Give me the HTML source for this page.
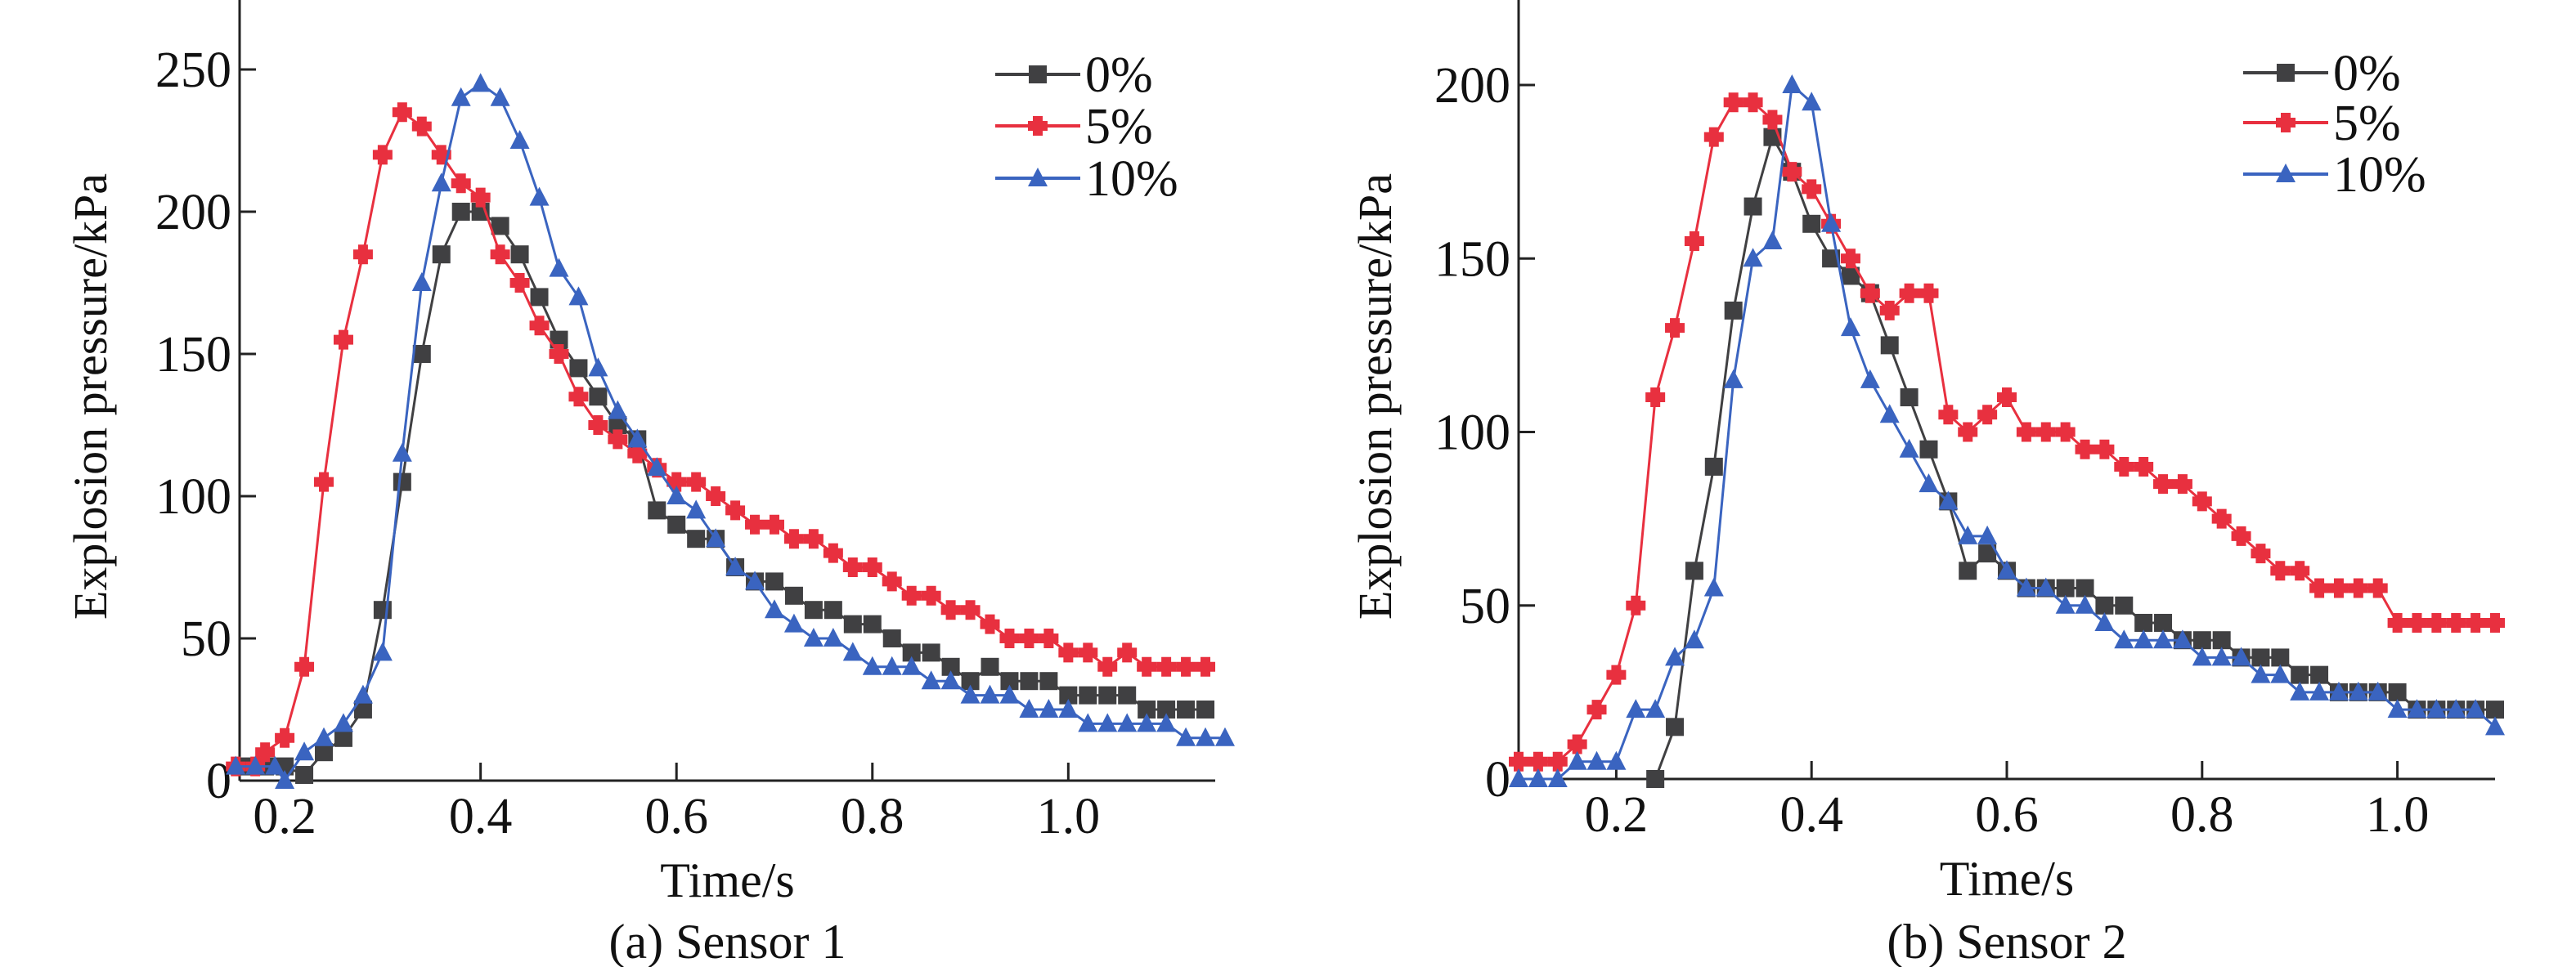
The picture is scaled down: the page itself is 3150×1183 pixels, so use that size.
<!DOCTYPE html>
<html><head><meta charset="utf-8"><style>
html,body{margin:0;padding:0;background:#fff;}
svg{display:block;}
svg text{font-family:"Liberation Serif","Times New Roman",serif;}
</style></head><body>
<svg id="fig" width="3150" height="1183" viewBox="0 0 3150 1183" xmlns="http://www.w3.org/2000/svg" font-family="Liberation Serif, serif"></svg>
<script>
// ---- data: Sensor 1 ----
const a_t0 = [0.16,0.18,0.20,0.22,0.24,0.26,0.28,0.30,0.32,0.34,0.36,0.38,0.40,0.42,0.44,0.46,0.48,0.50,0.52,0.54,0.56,0.58,0.60,0.62,0.64,0.66,0.68,0.70,0.72,0.74,0.76,0.78,0.80,0.82,0.84,0.86,0.88,0.90,0.92,0.94,0.96,0.98,1.00,1.02,1.04,1.06,1.08,1.10,1.12,1.14];
const a_v0 = [5,5,5,2,10,15,25,60,105,150,185,200,200,195,185,170,155,145,135,125,120,95,90,85,85,75,70,70,65,60,60,55,55,50,45,45,40,35,40,35,35,35,30,30,30,30,25,25,25,25];
const a_t5 = [0.15,0.17,0.18,0.20,0.22,0.24,0.26,0.28,0.30,0.32,0.34,0.36,0.38,0.40,0.42,0.44,0.46,0.48,0.50,0.52,0.54,0.56,0.58,0.60,0.62,0.64,0.66,0.68,0.70,0.72,0.74,0.76,0.78,0.80,0.82,0.84,0.86,0.88,0.90,0.92,0.94,0.96,0.98,1.00,1.02,1.04,1.06,1.08,1.10,1.12,1.14];
const a_v5 = [5,5,10,15,40,105,155,185,220,235,230,220,210,205,185,175,160,150,135,125,120,115,110,105,105,100,95,90,90,85,85,80,75,75,70,65,65,60,60,55,50,50,50,45,45,40,45,40,40,40,40];
const a_t10 = [0.15,0.17,0.19,0.20,0.22,0.24,0.26,0.28,0.30,0.32,0.34,0.36,0.38,0.40,0.42,0.44,0.46,0.48,0.50,0.52,0.54,0.56,0.58,0.60,0.62,0.64,0.66,0.68,0.70,0.72,0.74,0.76,0.78,0.80,0.82,0.84,0.86,0.88,0.90,0.92,0.94,0.96,0.98,1.00,1.02,1.04,1.06,1.08,1.10,1.12,1.14,1.16];
const a_v10 = [5,5,5,0,10,15,20,30,45,115,175,210,240,245,240,225,205,180,170,145,130,120,110,100,95,85,75,70,60,55,50,50,45,40,40,40,35,35,30,30,30,25,25,25,20,20,20,20,20,15,15,15];
// ---- data: Sensor 2 ----
const b_t0 = [0.24,0.26,0.28,0.30,0.32,0.34,0.36,0.38,0.40,0.42,0.44,0.46,0.48,0.50,0.52,0.54,0.56,0.58,0.60,0.62,0.64,0.66,0.68,0.70,0.72,0.74,0.76,0.78,0.80,0.82,0.84,0.86,0.88,0.90,0.92,0.94,0.96,0.98,1.00,1.02,1.04,1.06,1.08,1.10];
const b_v0 = [0,15,60,90,135,165,185,175,160,150,145,140,125,110,95,80,60,65,60,55,55,55,55,50,50,45,45,40,40,40,35,35,35,30,30,25,25,25,25,20,20,20,20,20];
const b_t5 = [0.10,0.12,0.14,0.16,0.18,0.20,0.22,0.24,0.26,0.28,0.30,0.32,0.34,0.36,0.38,0.40,0.42,0.44,0.46,0.48,0.50,0.52,0.54,0.56,0.58,0.60,0.62,0.64,0.66,0.68,0.70,0.72,0.74,0.76,0.78,0.80,0.82,0.84,0.86,0.88,0.90,0.92,0.94,0.96,0.98,1.00,1.02,1.04,1.06,1.08,1.10];
const b_v5 = [5,5,5,10,20,30,50,110,130,155,185,195,195,190,175,170,160,150,140,135,140,140,105,100,105,110,100,100,100,95,95,90,90,85,85,80,75,70,65,60,60,55,55,55,55,45,45,45,45,45,45];
const b_t10 = [0.10,0.12,0.14,0.16,0.18,0.20,0.22,0.24,0.26,0.28,0.30,0.32,0.34,0.36,0.38,0.40,0.42,0.44,0.46,0.48,0.50,0.52,0.54,0.56,0.58,0.60,0.62,0.64,0.66,0.68,0.70,0.72,0.74,0.76,0.78,0.80,0.82,0.84,0.86,0.88,0.90,0.92,0.94,0.96,0.98,1.00,1.02,1.04,1.06,1.08,1.10];
const b_v10 = [0,0,0,5,5,5,20,20,35,40,55,115,150,155,200,195,160,130,115,105,95,85,80,70,70,60,55,55,50,50,45,40,40,40,40,35,35,35,30,30,25,25,25,25,25,20,20,20,20,20,15];
const xTicks = [0.2,0.4,0.6,0.8,1.0];
const xTickLabels = ["0.2","0.4","0.6","0.8","1.0"];
const aYTicks = [0,50,100,150,200,250];
const bYTicks = [0,50,100,150,200];
const legendLabels = ["0%","5%","10%"];
const colors = ["#404042","#e8303f","#3a64c0"];

const NS="http://www.w3.org/2000/svg";
const svg=document.getElementById('fig');
const FONT='Liberation Serif, serif';
function mk(tag,attrs,parent){const e=document.createElementNS(NS,tag);for(const k in attrs)e.setAttribute(k,attrs[k]);(parent||svg).appendChild(e);return e;}
function txt(attrs,parent,s){attrs['font-family']=FONT;const e=mk('text',attrs,parent);e.textContent=s;return e;}

function marker(g,shape,x,y,c){
  let m;
  if(shape===0){m=mk('rect',{x:x-11,y:y-11,width:22,height:22,fill:c},g);}
  else if(shape===1){m=mk('path',{d:`M${x-6},${y-12}h12v6h6v12h-6v6h-12v-6h-6v-12h6z`,fill:c},g);}
  else {m=mk('path',{d:`M${x},${y-13}L${x+12},${y+10}L${x-12},${y+10}Z`,fill:c},g);}
  return m;
}

function chart(cfg){
  const g=mk('g',{});
  
  
  const X=t=>cfg.x0+(t-cfg.xmin)/(cfg.xmax-cfg.xmin)*(cfg.x1-cfg.x0);
  const Y=v=>cfg.y0-(v/cfg.ymax)*(cfg.y0-cfg.y1);
  const ax=mk('line',{x1:cfg.x0,y1:0,x2:cfg.x0,y2:cfg.y0,stroke:'#222','stroke-width':3},g);
  
  const bx=mk('line',{x1:cfg.x0,y1:cfg.y0,x2:cfg.x1,y2:cfg.y0,stroke:'#222','stroke-width':3},g);
  
  cfg.yt.forEach(v=>{
    if(v>0){const tk=mk('line',{x1:cfg.x0,y1:Y(v),x2:cfg.x0+20,y2:Y(v),stroke:'#222','stroke-width':3},g);
    }
    const tl=txt({x:cfg.x0-10,y:Y(v)+21,'font-size':62,'text-anchor':'end',fill:'#111'},g,String(v));
    
  });
  xTicks.forEach((t,i)=>{
    const tk=mk('line',{x1:X(t),y1:cfg.y0,x2:X(t),y2:cfg.y0-22,stroke:'#222','stroke-width':3},g);
    
    const tl=txt({x:X(t),y:cfg.y0+64,'font-size':62,'text-anchor':'middle',fill:'#111'},g,xTickLabels[i]);
    
  });
  const xt=txt({x:(cfg.x0+cfg.x1)/2,y:cfg.y0+142,'font-size':60,'text-anchor':'middle',fill:'#111'},g,'Time/s');
  
  const yt=txt({x:0,y:0,'font-size':58,'text-anchor':'middle',fill:'#111',transform:`translate(${cfg.ytx},485) rotate(-90)`},g,'Explosion pressure/kPa');
  
  const cap=txt({x:(cfg.x0+cfg.x1)/2,y:1172,'font-size':60,'text-anchor':'middle',fill:'#111'},g,cfg.caption);
  
  cfg.series.forEach((s,i)=>{
    const sg=mk('g',{},g);
    
    
    const pts=s.t.map((t,j)=>X(t)+','+Y(s.v[j])).join(' ');
    const pl=mk('polyline',{points:pts,fill:'none',stroke:colors[i],'stroke-width':3},sg);
    
    s.t.forEach((t,j)=>{
      const m=marker(sg,i,X(t),Y(s.v[j]),colors[i]);
      
      
    });
  });
  const lg=mk('g',{},g);
  
  legendLabels.forEach((lab,i)=>{
    const y=cfg.ly[i];
    const eg=mk('g',{},lg);
    
    mk('line',{x1:cfg.lx,y1:y,x2:cfg.lx+104,y2:y,stroke:colors[i],'stroke-width':4},eg);
    marker(eg,i,cfg.lx+52,y,colors[i]);
    txt({x:cfg.lx+110,y:y+21,'font-size':62,fill:'#111'},eg,lab);
  });
}

chart({name:'chart-sensor-1',x0:293,x1:1486,xmin:0.154,xmax:1.15,y0:955,y1:85,ymax:250,yt:aYTicks,ytx:130,
  caption:'(a) Sensor 1',lx:1217,ly:[91,154,218],
  series:[{t:a_t0,v:a_v0},{t:a_t5,v:a_v5},{t:a_t10,v:a_v10}]});
chart({name:'chart-sensor-2',x0:1857,x1:3051,xmin:0.1,xmax:1.1,y0:953,y1:104,ymax:200,yt:bYTicks,ytx:1701,
  caption:'(b) Sensor 2',lx:2743,ly:[89,150,213],
  series:[{t:b_t0,v:b_v0},{t:b_t5,v:b_v5},{t:b_t10,v:b_v10}]});
</script>
</body></html>
